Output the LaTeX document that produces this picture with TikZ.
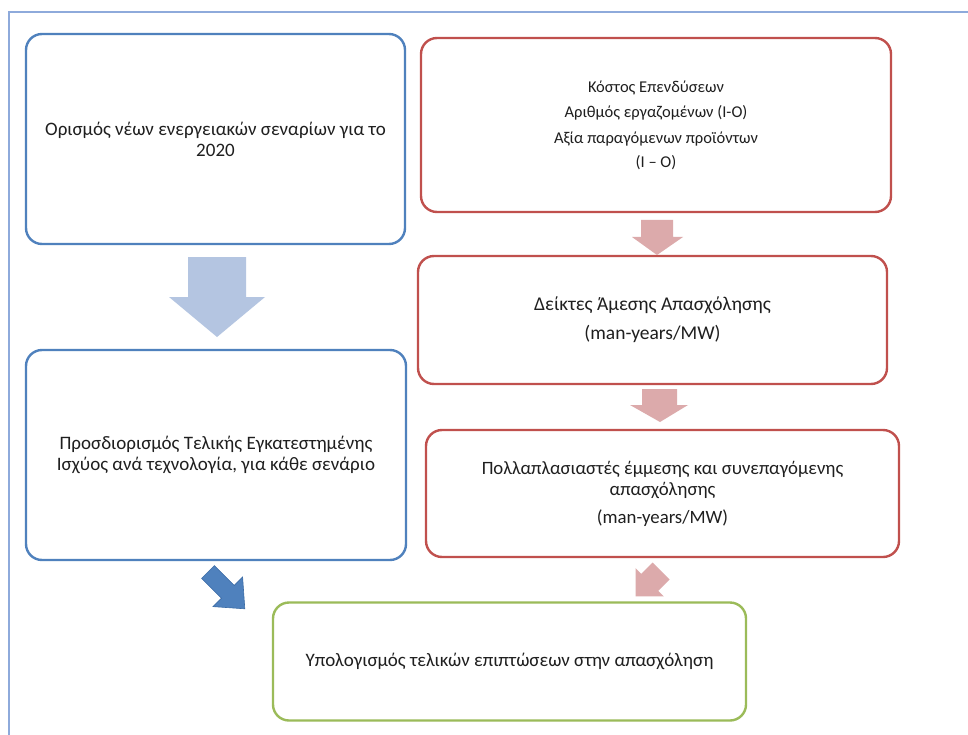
\documentclass[tikz,border=0pt]{standalone}
\usepackage{fontspec}
\setmainfont{Carlito}
\definecolor{obl}{HTML}{4F81BD}
\definecolor{ord}{HTML}{C0504D}
\definecolor{ogr}{HTML}{9BBB59}
\definecolor{lbl}{HTML}{B4C5E1}
\definecolor{pnk}{HTML}{DCAAAB}
\definecolor{frm}{HTML}{8EAADB}
\definecolor{dbl}{HTML}{3A6BA5}
\begin{document}
\begin{tikzpicture}[x=1pt,y=-1pt,
  box/.style={draw, line width=2.4pt, rounded corners=16pt, fill=white, align=center, inner sep=0pt, text=black!88},
  bluebox/.style={box, draw=obl},
  redbox/.style={box, draw=ord},
  greenbox/.style={box, draw=ogr},
  txt/.style={font=\fontsize{19}{21}\selectfont},
  mtxt/.style={font=\fontsize{18.8}{21}\selectfont},
  stxt/.style={font=\fontsize{16.5}{20}\selectfont}]
\useasboundingbox (0,0) rectangle (968,735);
\fill[white] (0,0) rectangle (968,735);
\draw[frm, line width=1.2pt] (9,735) -- (9,12) -- (968,12);

\node[bluebox, txt, minimum width=379pt, minimum height=210pt] (b1) at (215.5,139)
  {Ορισμός νέων ενεργειακών σεναρίων για το\\2020};
\node[bluebox, txt, minimum width=380pt, minimum height=210pt] (b3) at (216,455)
  {Προσδιορισμός Τελικής Εγκατεστημένης\\Ισχύος ανά τεχνολογία, για κάθε σενάριο};
\node[redbox, stxt, minimum width=470pt, minimum height=174pt] (r1) at (656,125)
  {Κόστος Επενδύσεων\\[5.5pt]Αριθμός εργαζομένων (I-O)\\[5.5pt]Αξία παραγόμενων προϊόντων\\[4pt](I – O)};
\node[redbox, txt, font=\fontsize{19.5}{21}\selectfont, minimum width=469pt, minimum height=128pt] (r2) at (652.5,320)
  {Δείκτες Άμεσης Απασχόλησης\\[8pt](man-years/MW)};
\node[redbox, mtxt, minimum width=473pt, minimum height=127pt] (r3) at (662.5,493.5)
  {Πολλαπλασιαστές έμμεσης και συνεπαγόμενης\\απασχόλησης\\[7pt](man-years/MW)};
\node[greenbox, txt, minimum width=473pt, minimum height=118pt] (g1) at (509.5,661.5)
  {Υπολογισμός τελικών επιπτώσεων στην απασχόληση};

% block arrows
\fill[lbl] (188,257) -- (246,257) -- (246,297) -- (265,297) -- (217,337) -- (169,297) -- (188,297) -- cycle;
\fill[pnk] (641,220) -- (673,220) -- (673,237) -- (683,237) -- (657,255) -- (632,237) -- (641,237) -- cycle;
\fill[pnk] (642,389) -- (677,389) -- (677,405) -- (688,405) -- (660,422) -- (630,405) -- (642,405) -- cycle;
\filldraw[fill=obl, draw=dbl, line width=0.6pt] (214.4,565.6) -- (234.2,585.4) -- (242.6,577) -- (244.8,608.8) -- (213,606.6) -- (221.4,598.2) -- (201.6,578.4) -- cycle;
\fill[pnk] (652.5,562.5) -- (641.2,573.8) -- (635.6,568.2) -- (635.6,596.4) -- (663.8,596.4) -- (658.2,590.8) -- (669.5,579.5) -- cycle;
\end{tikzpicture}
\end{document}
